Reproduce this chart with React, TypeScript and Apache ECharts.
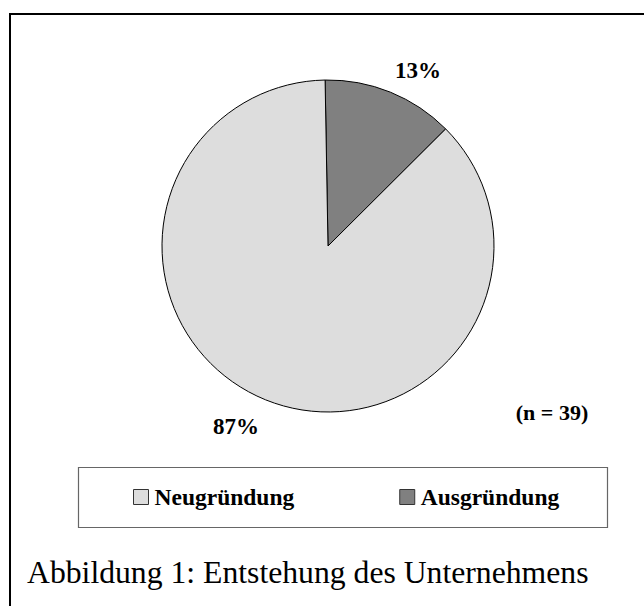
import React, { useEffect, useRef } from "react";
import * as echarts from "echarts";

const categories = ["Ausgründung", "Neugründung"];
const counts = [5, 34];
const legendOrder = ["Neugründung", "Ausgründung"];
const sliceColors = ["#808080", "#dddddd"];
const captionText = "Abbildung 1: Entstehung des Unternehmens";

const SERIF = "'Liberation Serif', 'Times New Roman', serif";

export default function App() {
  const ref = useRef<HTMLDivElement>(null);
  useEffect(() => {
    if (!ref.current) return;
    const chart = echarts.init(ref.current, null, { renderer: "svg" });
    const total = counts.reduce((a, b) => a + b, 0);
    const labelPos = [
      { x: 418, y: 70 },
      { x: 236, y: 426 },
    ];
    chart.setOption({
      animation: false,
      backgroundColor: "#ffffff",
      legend: {
        data: legendOrder,
        left: 133,
        top: 485,
        orient: "horizontal",
        itemWidth: 15,
        itemHeight: 15,
        itemGap: 105,
        icon: "rect",
        selectedMode: false,
        padding: 0,
        itemStyle: { borderColor: "#333", borderWidth: 1 },
        textStyle: {
          fontFamily: SERIF,
          fontWeight: "bold",
          fontSize: 23.5,
          lineHeight: 24,
          color: "#000",
          padding: [0, 0, 0, 1],
        },
      },
      graphic: [
        {
          type: "line",
          shape: { x1: 10, y1: 14, x2: 10, y2: 606 },
          style: { stroke: "#000", lineWidth: 2 },
        },
        {
          type: "line",
          shape: { x1: 9, y1: 14, x2: 644, y2: 14 },
          style: { stroke: "#000", lineWidth: 2 },
        },
        {
          type: "rect",
          shape: { x: 78.5, y: 467.5, width: 529, height: 60 },
          style: { fill: "none", stroke: "#666", lineWidth: 1.2 },
          z: -1,
        },
        {
          type: "text",
          x: 552,
          y: 412,
          style: {
            text: `(n = ${total})`,
            font: `bold 22px ${SERIF}`,
            fill: "#000",
            textAlign: "center",
            textVerticalAlign: "middle",
          },
        },
        {
          type: "text",
          x: 27,
          y: 572.5,
          style: {
            text: captionText,
            font: `31.7px ${SERIF}`,
            fill: "#000",
            textAlign: "left",
            textVerticalAlign: "middle",
          },
        },
      ],
      series: [
        {
          type: "pie",
          center: [328, 246],
          radius: [0, 166],
          startAngle: 91,
          clockwise: true,
          silent: true,
          percentPrecision: 0,
          emphasis: { disabled: true },
          itemStyle: { borderColor: "#000", borderWidth: 1 },
          labelLine: { show: false },
          label: {
            show: true,
            position: "outside",
            formatter: "{d}%",
            fontFamily: SERIF,
            fontWeight: "bold",
            fontSize: 23,
            color: "#000",
          },
          labelLayout: (params: any) => ({
            x: labelPos[params.dataIndex].x,
            y: labelPos[params.dataIndex].y,
            align: "center",
            verticalAlign: "middle",
          }),
          data: categories.map((name, i) => ({
            name,
            value: counts[i],
            itemStyle: { color: sliceColors[i] },
          })),
        },
      ],
    });
    return () => chart.dispose();
  }, []);
  return (
    <div
      ref={ref}
      style={{ position: "fixed", left: 0, top: 0, width: 644, height: 606 }}
    />
  );
}
